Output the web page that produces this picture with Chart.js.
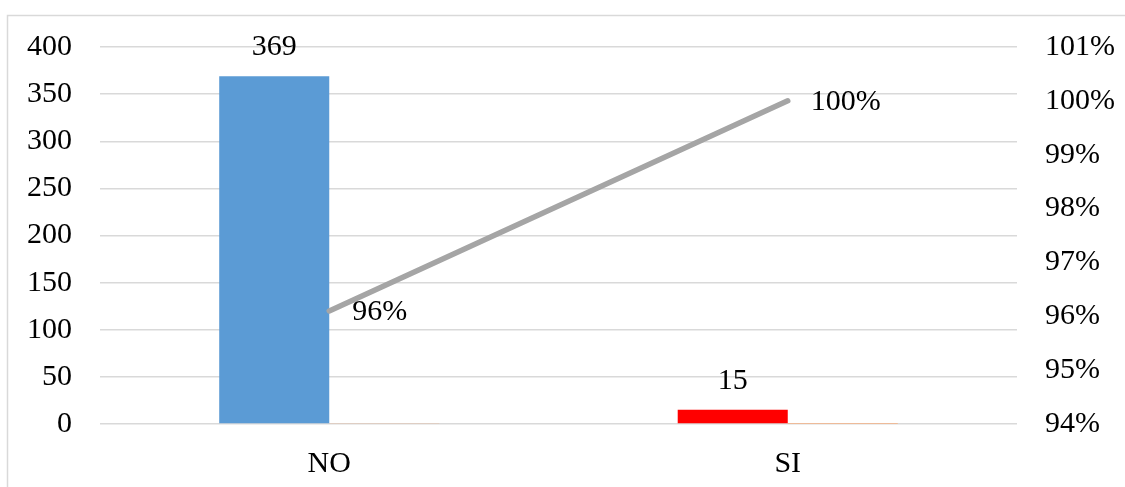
<!DOCTYPE html>
<html>
<head>
<meta charset="utf-8">
<title>NO / SI</title>
<script src="https://cdn.jsdelivr.net/npm/chart.js@4/dist/chart.umd.min.js"></script>
<style>
  html, body { margin: 0; padding: 0; background: #ffffff; }
  #wrap { width: 1125px; height: 487px; }
</style>
</head>
<body>
<div id="wrap"><canvas id="c" width="1125" height="487"></canvas></div>
<script>
// Categories and series
const categories = ['NO', 'SI'];
const counts = [369, 15];
const shares = [0.96, 0.04];
const cumulative = [0.961, 1.00];
const percentTicks = [0.94, 0.95, 0.96, 0.97, 0.98, 0.99, 1.00, 1.01];

const FONT = "'Liberation Serif', 'Times New Roman', serif";
const GRID = '#d9d9d9';
const pct = v => Math.round(v * 100) + '%';

// Frame around the chart area (top and left edges)
const framePlugin = {
  id: 'frame',
  beforeDraw(chart) {
    const ctx = chart.ctx;
    ctx.save();
    ctx.strokeStyle = GRID;
    ctx.lineWidth = 1.5;
    ctx.beginPath();
    ctx.moveTo(7.5, chart.height);
    ctx.lineTo(7.5, 15.5);
    ctx.lineTo(chart.width, 15.5);
    ctx.stroke();
    ctx.restore();
  }
};

// Value labels above the count bars and beside the cumulative points
const valueLabels = {
  id: 'valueLabels',
  afterDatasetsDraw(chart) {
    const ctx = chart.ctx;
    ctx.save();
    ctx.fillStyle = '#000000';
    ctx.font = '30px ' + FONT;
    ctx.textBaseline = 'middle';

    const barMeta = chart.getDatasetMeta(0);
    ctx.textAlign = 'center';
    barMeta.data.forEach((bar, i) => {
      ctx.fillText(String(counts[i]), bar.x, bar.y - 29);
    });

    const lineMeta = chart.getDatasetMeta(2);
    ctx.textAlign = 'left';
    lineMeta.data.forEach((pt, i) => {
      ctx.fillText(pct(cumulative[i]), pt.x + 23, pt.y + 1);
    });
    ctx.restore();
  }
};

new Chart(document.getElementById('c'), {
  data: {
    labels: categories,
    datasets: [
      {
        type: 'bar',
        label: 'Cantidad',
        data: counts,
        backgroundColor: ['#5B9BD5', '#FF0000'],
        yAxisID: 'y',
        order: 2
      },
      {
        type: 'bar',
        label: 'Porcentaje',
        data: shares,
        backgroundColor: '#F4B183',
        yAxisID: 'y',
        order: 2
      },
      {
        type: 'line',
        label: 'Acumulado',
        data: cumulative,
        borderColor: '#A5A5A5',
        borderWidth: 5.5,
        borderCapStyle: 'round',
        pointRadius: 0,
        pointHoverRadius: 0,
        tension: 0,
        fill: false,
        yAxisID: 'y1',
        order: 1
      }
    ]
  },
  options: {
    responsive: false,
    animation: false,
    devicePixelRatio: 1,
    layout: { padding: { top: 47, left: 0, right: 0, bottom: 0 } },
    datasets: {
      bar: { barPercentage: 1, categoryPercentage: 0.48 }
    },
    plugins: {
      legend: { display: false },
      tooltip: { enabled: false }
    },
    scales: {
      x: {
        grid: { display: false, drawTicks: false },
        border: { display: false },
        ticks: {
          color: '#000000',
          font: { family: FONT, size: 30 },
          padding: 22,
          maxRotation: 0
        },
        afterFit(scale) { scale.height = 63; }
      },
      y: {
        position: 'left',
        min: 0,
        max: 400,
        grid: { color: GRID, lineWidth: 1.5, drawTicks: false },
        border: { display: false },
        ticks: {
          stepSize: 50,
          color: '#000000',
          font: { family: FONT, size: 30 },
          padding: 28
        },
        afterFit(scale) { scale.width = 100; }
      },
      y1: {
        position: 'right',
        min: percentTicks[0],
        max: percentTicks[percentTicks.length - 1],
        grid: { drawOnChartArea: false, drawTicks: false },
        border: { display: false },
        afterBuildTicks(scale) {
          scale.ticks = percentTicks.map(v => ({ value: v }));
        },
        ticks: {
          color: '#000000',
          font: { family: FONT, size: 30 },
          padding: 28,
          callback: v => pct(v)
        },
        afterFit(scale) { scale.width = 108; }
      }
    }
  },
  plugins: [framePlugin, valueLabels]
});
</script>
</body>
</html>
